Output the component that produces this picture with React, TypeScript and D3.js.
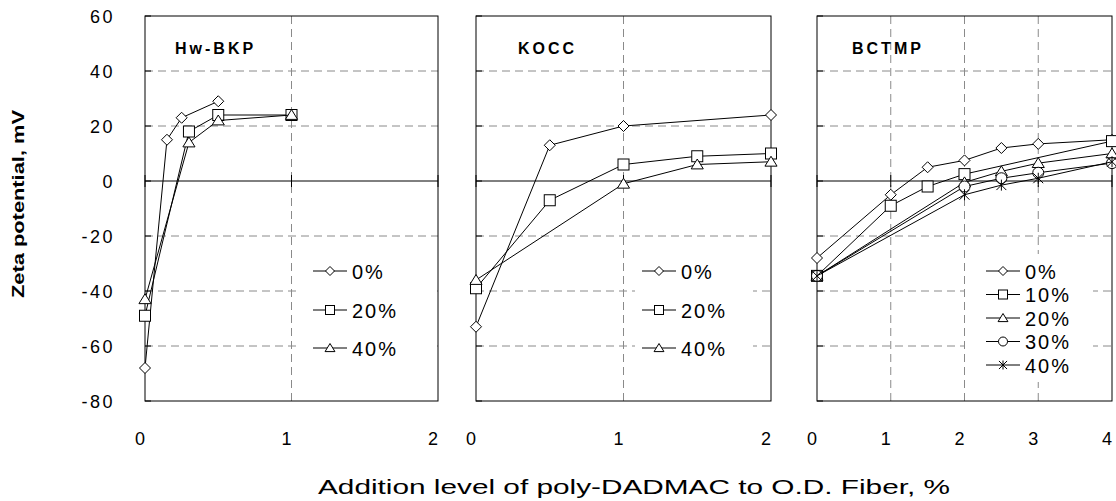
import React from "react";
import * as d3 from "d3";

// y axis
const yTicks = [-80, -60, -40, -20, 0, 20, 40, 60];

// Hw-BKP
const hwNames = ["0%", "20%", "40%"];
const hwX0 = [0, 0.15, 0.25, 0.5];
const hwY0 = [-68, 15, 23, 29];
const hwX20 = [0, 0.3, 0.5, 1.0];
const hwY20 = [-49, 18, 24, 24];
const hwX40 = [0, 0.3, 0.5, 1.0];
const hwY40 = [-43, 14, 22, 24];

// KOCC
const koNames = ["0%", "20%", "40%"];
const koX0 = [0, 0.5, 1, 2];
const koY0 = [-53, 13, 20, 24];
const koX20 = [0, 0.5, 1, 1.5, 2];
const koY20 = [-39, -7, 6, 9, 10];
const koX40 = [0, 1, 1.5, 2];
const koY40 = [-36, -1, 6, 7];

// BCTMP
const bcNames = ["0%", "10%", "20%", "30%", "40%"];
const bcX0 = [0, 1, 1.5, 2, 2.5, 3, 4];
const bcY0 = [-28, -5, 5, 7.5, 12, 13.5, 15];
const bcX10 = [0, 1, 1.5, 2, 4];
const bcY10 = [-34.5, -9, -2, 2.5, 14.5];
const bcX20 = [0, 2, 2.5, 3, 4];
const bcY20 = [-34.5, -0.5, 3.5, 6.5, 10];
const bcX30 = [0, 2, 2.5, 3, 4];
const bcY30 = [-34.5, -2, 1, 3, 6.5];
const bcX40 = [0, 2, 2.5, 3, 4];
const bcY40 = [-34.5, -5, -1.5, 1, 7];

const zip = (xs: number[], ys: number[]) => xs.map((x, i) => [x, ys[i]] as [number, number]);

const FONT = "'Liberation Sans', Arial, sans-serif";

const y = d3.scaleLinear().domain([-80, 60]).range([401, 16]);

const panels = [
  {
    title: "Hw-BKP", titleX: 175, left: 145, right: 438, xTicks: [0, 1, 2],
    legend: { x0: 298, x1: 437, y0: 250, y1: 366, lineX: 313, rows: [271, 310, 348] },
    series: [
      { name: hwNames[0], shape: "diamond", pts: zip(hwX0, hwY0) },
      { name: hwNames[1], shape: "square", pts: zip(hwX20, hwY20) },
      { name: hwNames[2], shape: "triangle", pts: zip(hwX40, hwY40) },
    ],
  },
  {
    title: "KOCC", titleX: 518, left: 476, right: 771, xTicks: [0, 1, 2],
    legend: { x0: 635, x1: 753, y0: 250, y1: 366, lineX: 642, rows: [271, 310, 348] },
    series: [
      { name: koNames[0], shape: "diamond", pts: zip(koX0, koY0) },
      { name: koNames[1], shape: "square", pts: zip(koX20, koY20) },
      { name: koNames[2], shape: "triangle", pts: zip(koX40, koY40) },
    ],
  },
  {
    title: "BCTMP", titleX: 852, left: 817, right: 1112, xTicks: [0, 1, 2, 3, 4],
    legend: { x0: 965, x1: 1093, y0: 254, y1: 382, lineX: 986, rows: [271, 294.5, 318, 341.5, 365] },
    series: [
      { name: bcNames[0], shape: "diamond", pts: zip(bcX0, bcY0) },
      { name: bcNames[1], shape: "square", pts: zip(bcX10, bcY10) },
      { name: bcNames[2], shape: "triangle", pts: zip(bcX20, bcY20) },
      { name: bcNames[3], shape: "circle", pts: zip(bcX30, bcY30) },
      { name: bcNames[4], shape: "star", pts: zip(bcX40, bcY40) },
    ],
  },
];

function Marker({ shape, cx, cy, s }: { shape: string; cx: number; cy: number; s: number }) {
  const st = { fill: "#fff", stroke: "#000", strokeWidth: 1 };
  if (shape === "diamond")
    return <path d={`M${cx},${cy - s}L${cx + s},${cy}L${cx},${cy + s}L${cx - s},${cy}Z`} {...st} />;
  if (shape === "square")
    return <rect x={cx - s} y={cy - s} width={2 * s} height={2 * s} {...st} />;
  if (shape === "triangle")
    return <path d={`M${cx},${cy - s}L${cx + s * 1.1},${cy + s * 0.8}L${cx - s * 1.1},${cy + s * 0.8}Z`} {...st} />;
  if (shape === "circle") return <circle cx={cx} cy={cy} r={s} {...st} />;
  // star: x plus vertical bar
  const d = s * 0.9;
  return (
    <path
      d={`M${cx},${cy - s}V${cy + s}M${cx - d},${cy - d}L${cx + d},${cy + d}M${cx - d},${cy + d}L${cx + d},${cy - d}`}
      stroke="#000" strokeWidth={1} fill="none"
    />
  );
}

function Panel({ p }: { p: (typeof panels)[number] }) {
  const xMax = p.xTicks[p.xTicks.length - 1];
  const x = d3.scaleLinear().domain([0, xMax]).range([p.left, p.right]);
  const line = d3.line<[number, number]>().x((d) => x(d[0])).y((d) => y(d[1]));
  const top = y(60), bottom = y(-80);
  const dash = { stroke: "#8a8a8a", strokeWidth: 1, strokeDasharray: "8,5" };
  const L = p.legend;
  return (
    <g>
      {yTicks.filter((t) => t !== 0 && t !== 60 && t !== -80).map((t) => (
        <line key={"h" + t} x1={p.left} x2={p.right} y1={y(t)} y2={y(t)} {...dash} />
      ))}
      {p.xTicks.slice(1, -1).map((t) => (
        <line key={"v" + t} x1={x(t)} x2={x(t)} y1={top} y2={bottom} {...dash} />
      ))}
      <rect x={L.x0} y={L.y0} width={L.x1 - L.x0} height={L.y1 - L.y0} fill="#fff" />
      <line x1={p.left} x2={p.right} y1={y(0)} y2={y(0)} stroke="#000" strokeWidth={1} />
      {p.xTicks.map((t) => (
        <line key={"t" + t} x1={x(t)} x2={x(t)} y1={y(0) - 6} y2={y(0) + 6} stroke="#000" strokeWidth={1} />
      ))}
      {yTicks.map((t) => (
        <line key={"yt" + t} x1={p.left} x2={p.left + 6} y1={y(t)} y2={y(t)} stroke="#000" strokeWidth={1} />
      ))}
      <rect x={p.left} y={top} width={p.right - p.left} height={bottom - top} fill="none" stroke="#000" strokeWidth={1} />
      {p.series.map((s) => (
        <g key={s.name}>
          <path d={line(s.pts) || ""} fill="none" stroke="#000" strokeWidth={1} />
          {s.pts.map((d, i) => (
            <Marker key={i} shape={s.shape} cx={x(d[0])} cy={y(d[1])} s={5.5} />
          ))}
        </g>
      ))}
      {p.series.map((s, i) => (
        <g key={"lg" + s.name}>
          <line x1={L.lineX} x2={L.lineX + 34} y1={L.rows[i]} y2={L.rows[i]} stroke="#000" strokeWidth={1} />
          <Marker shape={s.shape} cx={L.lineX + 17} cy={L.rows[i]} s={4.5} />
          <text x={L.lineX + 39} y={L.rows[i] + 7.5} fontSize={20} fontFamily={FONT} letterSpacing={2}>
            {s.name}
          </text>
        </g>
      ))}
      <text x={p.titleX} y={54} fontSize={16} fontWeight="bold" fontFamily={FONT} letterSpacing={3}>
        {p.title}
      </text>
      {p.xTicks.map((t) => (
        <text key={"xl" + t} x={x(t) - 4} y={445} fontSize={18} fontFamily={FONT} textAnchor="middle" letterSpacing={2}>
          {t}
        </text>
      ))}
    </g>
  );
}

export default function App() {
  return (
    <div style={{ position: "absolute", left: 0, top: 0 }}>
      <svg width={1116} height={501} style={{ display: "block", background: "#fff" }}>
        {yTicks.map((t) => (
          <text key={t} x={115} y={y(t) + 6.5} fontSize={18} fontFamily={FONT} textAnchor="end" letterSpacing={2.5}>
            {t}
          </text>
        ))}
        {panels.map((p) => (
          <Panel key={p.title} p={p} />
        ))}
        <text
          transform="translate(24,204) rotate(-90)"
          fontSize={17}
          fontWeight="bold"
          fontFamily={FONT}
          textAnchor="middle"
          textLength={188}
          lengthAdjust="spacingAndGlyphs"
        >
          Zeta potential, mV
        </text>
        <text
          x={634}
          y={494}
          fontSize={21}
          fontFamily={FONT}
          textAnchor="middle"
          textLength={632}
          lengthAdjust="spacingAndGlyphs"
        >
          Addition level of poly-DADMAC to O.D. Fiber, %
        </text>
      </svg>
    </div>
  );
}
